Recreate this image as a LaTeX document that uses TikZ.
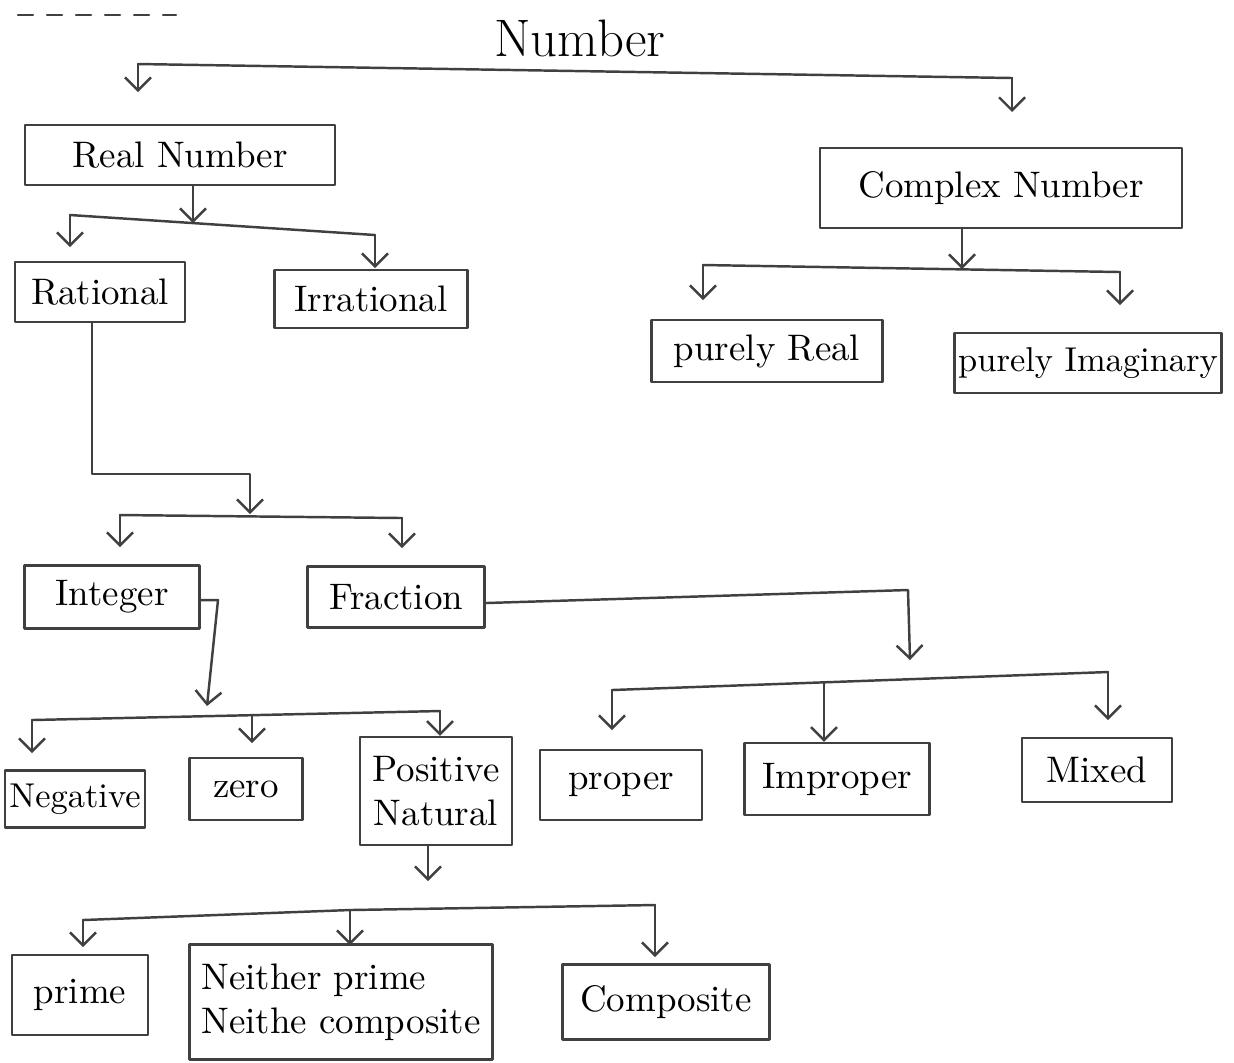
\documentclass[tikz,border=0pt]{standalone}
\usetikzlibrary{arrows.meta}
\begin{document}
\begin{tikzpicture}[x=0.01cm,y=-0.01cm,>={Straight Barb[length=1.3mm,width=2.6mm]},line join=round,line cap=round,font=\fontsize{10.5}{12.5}\selectfont,
	lin/.style={draw=black!75,line width=0.7pt},
	box/.style={lin,rectangle,inner sep=2pt,align=center},
	tight/.style={inner sep=0.5pt,font=\fontsize{9.8}{12}\selectfont}]
	\useasboundingbox (0,0) rectangle (1234,1062);
	\draw[lin,dash pattern=on 0.15cm off 0.14cm] (18,15) -- (176,15);
	\node (N) at (580,38) {\fontsize{15}{18}\selectfont Number};
	\node[box,minimum width=3.1cm,minimum height=0.6cm] (R) at (180,155) {Real Number};
	\node[box,minimum width=3.62cm,minimum height=0.8cm] (C) at (1001,188) {Complex Number};
	\node[box,minimum width=1.7cm,minimum height=0.6cm] (Q) at (100,292) {Rational};
	\node[box,minimum width=1.93cm,minimum height=0.58cm] (Irr) at (371,299) {Irrational};
	\node[box,minimum width=2.31cm,minimum height=0.62cm] (PR) at (767,351) {purely Real};
	\node[box,tight,minimum width=2.67cm,minimum height=0.6cm] (PI) at (1088,363) {purely Imaginary};
	\node[box,minimum width=1.75cm,minimum height=0.63cm] (I) at (112,597) {Integer};
	\node[box,minimum width=1.77cm,minimum height=0.61cm] (F) at (396,597) {Fraction};
	\node[box,tight,minimum width=1.4cm,minimum height=0.57cm] (Neg) at (75,799) {Negative};
	\node[box,minimum width=1.13cm,minimum height=0.62cm] (Zr) at (246,789) {zero};
	\node[box,minimum width=1.52cm,minimum height=1.08cm] (P) at (436,791) {Positive\\Natural};
	\node[box,minimum width=1.62cm,minimum height=0.7cm] (Pr) at (621,785) {proper};
	\node[box,minimum width=1.85cm,minimum height=0.72cm] (Im) at (837,779) {Improper};
	\node[box,minimum width=1.5cm,minimum height=0.64cm] (M) at (1097,770) {Mixed};
	\node[box,minimum width=1.36cm,minimum height=0.8cm] (Pm) at (80,995) {prime};
	\node[box,align=left,minimum width=3.03cm,minimum height=1.15cm] (Nt) at (341,1002) {Neither prime\\Neithe composite};
	\node[box,minimum width=2.07cm,minimum height=0.75cm] (Cm) at (666,1002) {Composite};
	% number
	\coordinate (N1) at (138,64);
	\coordinate (N2) at (1012,78);
	\draw[lin] (N1) -- (N2);
	\draw[lin,->] (N1) -- ++(0,28);
	\draw[lin,->] (N2) -- ++(0,34);
	% real
	\coordinate (R0) at (193,223);
	\coordinate (R1) at (70,215);
	\coordinate (R2) at (375,235);
	\draw[lin,->] (R.south -| R0) -- (R0);
	\draw[lin] (R1) -- (R2);
	\draw[lin,->] (R1) -- ++(0,32);
	\draw[lin,->] (R2) -- ++(0,33);
	% complex
	\coordinate (C0) at (962,269);
	\coordinate (C1) at (703,265);
	\coordinate (C2) at (1120,272);
	\draw[lin,->] (C.south -| C0) -- (C0);
	\draw[lin] (C1) -- (C2);
	\draw[lin,->] (C1) -- ++(0,35);
	\draw[lin,->] (C2) -- ++(0,33);
	% rational
	\coordinate (Qa) at (92,474);
	\coordinate (Q0) at (250,474);
	\coordinate (Q1) at (120,515);
	\coordinate (Q2) at (402,518);
	\draw[lin,->] (Q.south -| Qa) -- (Qa) -- (Q0) -- ++(0,40);
	\draw[lin] (Q1) -- (Q2);
	\draw[lin,->] (Q1) -- ++(0,32);
	\draw[lin,->] (Q2) -- ++(0,30);
	% integer
	\coordinate (Z0) at (218,600);
	\coordinate (Z1) at (207,706);
	\coordinate (Z2) at (32,720);
	\coordinate (Zm) at (252,715);
	\coordinate (Z3) at (440,711);
	\draw[lin,->] (I.east |- Z0) -- (Z0) -- (Z1);
	\draw[lin] (Z2) -- (Z3);
	\draw[lin,->] (Z2) -- ++(0,33);
	\draw[lin,->] (Zm) -- ++(0,28);
	\draw[lin,->] (Z3) -- (Z3 |- P.north);
	% fraction
	\coordinate (F0) at (908,590);
	\coordinate (F1) at (612,690);
	\coordinate (Fm) at (824,682);
	\coordinate (F2) at (1108,672);
	\draw[lin,->] ([yshift=-0.06cm]F.east) -- (F0) -- ++(2,70);
	\draw[lin] (F1) -- (F2);
	\draw[lin,->] (F1) -- ++(0,40);
	\draw[lin,->] (Fm) -- (Fm |- Im.north);
	\draw[lin,->] (F2) -- ++(0,48);
	% positive natural
	\coordinate (P0) at (428,881);
	\coordinate (B1) at (83,920);
	\coordinate (B2) at (350,910);
	\coordinate (B3) at (655,905);
	\draw[lin,->] (P.south -| P0) -- (P0);
	\draw[lin] (B1) -- (B2) -- (B3);
	\draw[lin,->] (B1) -- ++(0,27);
	\draw[lin,->] (B2) -- ++(0,35);
	\draw[lin,->] (B3) -- ++(0,52);
\end{tikzpicture}
\end{document}
